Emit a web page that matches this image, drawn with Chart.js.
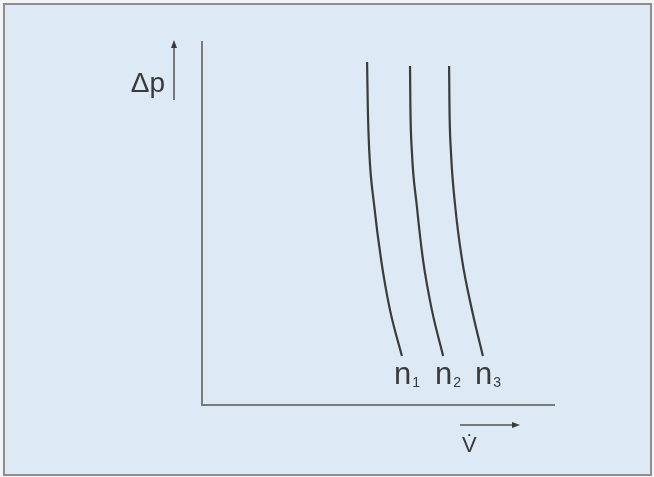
<!DOCTYPE html>
<html>
<head>
<meta charset="utf-8">
<script src="https://cdn.jsdelivr.net/npm/chart.js@4/dist/chart.umd.min.js"></script>
<style>
  html, body { margin: 0; padding: 0; background: #f3f3f3; }
</style>
</head>
<body>
<canvas id="pumpchart" width="654" height="477"></canvas>
<script>
// pump curves: delta p over volume flow, three speeds
const curveNames = ['n', 'n', 'n'];
const curveSubs = ['1', '2', '3'];
const dpN1 = [94.5, 82.3, 70.2, 55.1, 39.9, 26.2, 13.5];
const dpLevels = [93.4, 82.3, 70.2, 55.1, 39.9, 26.2, 13.5];
const flowN1 = [46.9, 47.1, 47.5, 48.9, 50.9, 53.4, 56.8];
const flowN2 = [59.1, 59.2, 59.6, 61.0, 62.8, 65.3, 68.5];
const flowN3 = [70.2, 70.3, 70.7, 71.9, 73.9, 76.7, 79.8];
const yTitle = 'Δp';
const xTitle = 'V\u0307';

function pts(xs, ys) {
  return xs.map((x, i) => ({ x: x, y: ys[i] }));
}

const lineColor = '#3b3b3b';
const axisColor = '#7a7a7a';
const textColor = '#3a3a3a';
const fontName = '"Liberation Sans", Arial, sans-serif';

const backdrop = {
  id: 'backdrop',
  beforeDraw(chart) {
    const ctx = chart.ctx;
    ctx.save();
    ctx.fillStyle = '#f3f3f3';
    ctx.fillRect(0, 0, chart.width, chart.height);
    ctx.fillStyle = '#dde9f4';
    ctx.fillRect(4, 4, chart.width - 7, chart.height - 6);
    ctx.strokeStyle = '#8e8e8e';
    ctx.lineWidth = 2;
    ctx.strokeRect(4, 4, chart.width - 7, chart.height - 6);
    ctx.restore();
  }
};

function arrow(ctx, x1, y1, x2, y2) {
  const a = Math.atan2(y2 - y1, x2 - x1);
  ctx.beginPath();
  ctx.moveTo(x1, y1);
  ctx.lineTo(x2 - 5 * Math.cos(a), y2 - 5 * Math.sin(a));
  ctx.stroke();
  ctx.beginPath();
  ctx.moveTo(x2, y2);
  ctx.lineTo(x2 - 8 * Math.cos(a) + 3 * Math.sin(a), y2 - 8 * Math.sin(a) - 3 * Math.cos(a));
  ctx.lineTo(x2 - 8 * Math.cos(a) - 3 * Math.sin(a), y2 - 8 * Math.sin(a) + 3 * Math.cos(a));
  ctx.closePath();
  ctx.fill();
}

const annotations = {
  id: 'annotations',
  afterDraw(chart) {
    const ctx = chart.ctx;
    const area = chart.chartArea;
    ctx.save();
    ctx.fillStyle = textColor;
    ctx.strokeStyle = '#555';
    ctx.lineWidth = 1.5;

    // curve labels under the low ends
    chart.data.datasets.forEach((ds, i) => {
      const meta = chart.getDatasetMeta(i);
      const end = meta.data[meta.data.length - 1];
      ctx.font = '31px ' + fontName;
      ctx.textAlign = 'left';
      ctx.textBaseline = 'alphabetic';
      const x0 = end.x - 8;
      ctx.fillText(curveNames[i], x0, end.y + 28);
      const w = ctx.measureText(curveNames[i]).width;
      ctx.font = '14px ' + fontName;
      ctx.fillText(curveSubs[i], x0 + w + 1, end.y + 31);
    });

    // y axis title with arrow
    ctx.font = '28px ' + fontName;
    ctx.textAlign = 'right';
    ctx.fillText(yTitle, area.left - 37, area.top + 50);
    arrow(ctx, area.left - 28, area.top + 58, area.left - 28, area.top - 2);

    // x axis title with arrow
    ctx.font = '22px ' + fontName;
    ctx.textAlign = 'left';
    ctx.fillText(xTitle, area.left + 260, area.bottom + 47);
    arrow(ctx, area.left + 258, area.bottom + 20, area.left + 318, area.bottom + 20);
    ctx.restore();
  }
};

const datasets = [flowN1, flowN2, flowN3].map((xs, i) => ({
  label: curveNames[i] + curveSubs[i],
  data: pts(xs, i === 0 ? dpN1 : dpLevels),
  showLine: true,
  borderColor: lineColor,
  borderWidth: 2.2,
  pointRadius: 0,
  cubicInterpolationMode: 'monotone',
  fill: false
}));

new Chart(document.getElementById('pumpchart'), {
  type: 'scatter',
  data: { datasets: datasets },
  options: {
    responsive: false,
    animation: false,
    events: [],
    layout: { padding: { left: 202, top: 42, right: 100, bottom: 72 } },
    plugins: { legend: { display: false }, tooltip: { enabled: false } },
    scales: {
      x: {
        min: 0, max: 100,
        ticks: { display: false },
        grid: { display: false, drawTicks: false },
        border: { display: true, color: axisColor, width: 2 }
      },
      y: {
        min: 0, max: 100,
        ticks: { display: false },
        grid: { display: false, drawTicks: false },
        border: { display: true, color: axisColor, width: 2 }
      }
    }
  },
  plugins: [backdrop, annotations]
});
</script>
</body>
</html>
